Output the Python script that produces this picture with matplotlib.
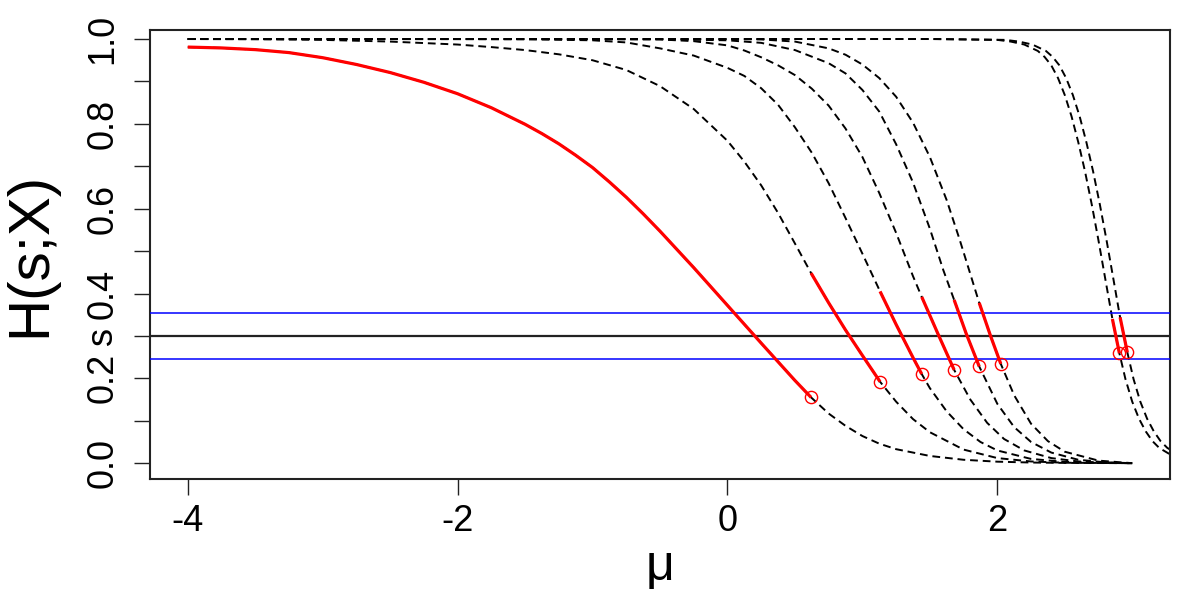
import matplotlib
matplotlib.use("Agg")
import matplotlib.pyplot as plt

# curves: mu values and H(s;X) values
r_mu = [-4.0, -3.75, -3.5, -3.25, -3.0, -2.75, -2.5, -2.25, -2.0, -1.75, -1.5,
        -1.375, -1.25, -1.125, -1.0, -0.875, -0.75, -0.625, -0.5, -0.25, 0.0,
        0.25, 0.5, 0.62,
        0.75, 0.875, 1.0, 1.125, 1.25, 1.5, 1.75, 2.0, 2.25, 2.5, 3.0]
r_h = [0.981, 0.979, 0.975, 0.968, 0.956, 0.940, 0.921, 0.898, 0.871, 0.838, 0.799,
       0.777, 0.753, 0.726, 0.697, 0.663, 0.627, 0.588, 0.547, 0.461, 0.372,
       0.283, 0.195, 0.155,
       0.117, 0.088, 0.064, 0.046, 0.033, 0.017, 0.008, 0.0035, 0.0015, 0.0006, 0.0]

b_mu = [-4.0, -3.5, -3.0, -2.5, -2.0, -1.75, -1.5, -1.25, -1.0, -0.75, -0.5, -0.25,
        0.0, 0.125, 0.25, 0.375, 0.5, 0.62, 0.75, 0.875, 1.0, 1.131, 1.25, 1.375,
        1.5, 1.75, 2.0, 2.25, 2.5, 3.0]
b_h = [1.0, 0.9995, 0.998, 0.994, 0.987, 0.981, 0.974, 0.964, 0.950, 0.927, 0.889, 0.835,
       0.760, 0.711, 0.655, 0.590, 0.518, 0.448, 0.378, 0.314, 0.254, 0.192, 0.145, 0.104,
       0.073, 0.032, 0.012, 0.004, 0.001, 0.0]

c_mu = [-4.0, -2.0, -1.5, -1.0, -0.75, -0.5, -0.25, 0.0, 0.125, 0.25, 0.375, 0.5,
        0.625, 0.75, 0.875, 1.0, 1.131, 1.25, 1.375, 1.44, 1.5, 1.625, 1.75, 1.875,
        2.0, 2.25, 2.5, 2.75, 3.0]
c_h = [1.0, 1.0, 0.9995, 0.997, 0.992, 0.978, 0.961, 0.932, 0.913, 0.884, 0.845, 0.792,
       0.732, 0.660, 0.578, 0.494, 0.405, 0.327, 0.249, 0.210, 0.177, 0.122, 0.080, 0.050,
       0.030, 0.010, 0.003, 0.0008, 0.0]

d_mu = [-4.0, -1.0, -0.5, -0.25, 0.0, 0.125, 0.25, 0.375, 0.5, 0.625, 0.75, 0.875,
        1.0, 1.125, 1.25, 1.375, 1.44, 1.56, 1.68, 1.8, 1.925, 2.05, 2.2, 2.4, 2.6,
        2.8, 3.0]
d_h = [1.0, 1.0, 0.999, 0.995, 0.985, 0.973, 0.957, 0.938, 0.915, 0.883, 0.843, 0.789,
       0.722, 0.637, 0.543, 0.441, 0.392, 0.305, 0.220, 0.150, 0.095, 0.057, 0.030, 0.012,
       0.004, 0.001, 0.0]

e_mu = [-4.0, -0.5, 0.0, 0.25, 0.5, 0.75, 0.875, 1.0, 1.125, 1.25, 1.375, 1.5,
        1.6, 1.68, 1.77, 1.866, 2.0, 2.125, 2.25, 2.4, 2.6, 2.8, 3.0]
e_h = [1.0, 0.9995, 0.997, 0.991, 0.974, 0.943, 0.919, 0.880, 0.829, 0.752, 0.662, 0.553,
       0.455, 0.385, 0.305, 0.228, 0.140, 0.085, 0.050, 0.025, 0.008, 0.002, 0.0]

f_mu = [-4.0, 0.0, 0.25, 0.5, 0.75, 0.875, 1.0, 1.125, 1.25, 1.375, 1.5, 1.625,
        1.72, 1.798, 1.866, 1.95, 2.026, 2.125, 2.25, 2.375, 2.5, 2.75, 3.0]
f_h = [1.0, 1.0, 0.999, 0.994, 0.978, 0.963, 0.940, 0.908, 0.864, 0.803, 0.722, 0.620,
       0.528, 0.448, 0.378, 0.300, 0.234, 0.160, 0.093, 0.052, 0.027, 0.006, 0.0]

g_mu = [-4.0, 1.5, 2.0, 2.1, 2.2, 2.3, 2.35, 2.4, 2.45, 2.5, 2.55, 2.6, 2.65, 2.7,
        2.75, 2.8, 2.853, 2.905, 2.95, 3.0, 3.05, 3.1, 3.15, 3.2, 3.3]
g_h = [1.0, 1.0, 0.998, 0.994, 0.987, 0.972, 0.958, 0.938, 0.908, 0.868, 0.818, 0.757,
       0.688, 0.610, 0.525, 0.435, 0.340, 0.259, 0.198, 0.145, 0.105, 0.075, 0.052,
       0.036, 0.017]

h_mu = [-4.0, 1.56, 2.06, 2.16, 2.26, 2.36, 2.41, 2.46, 2.51, 2.56, 2.61, 2.66, 2.71,
        2.76, 2.81, 2.86, 2.91, 2.964, 3.01, 3.06, 3.11, 3.16, 3.21, 3.26, 3.36]
h_h = [1.0, 1.0, 0.998, 0.994, 0.987, 0.972, 0.958, 0.938, 0.908, 0.868, 0.818, 0.757,
       0.688, 0.610, 0.525, 0.435, 0.344, 0.261, 0.198, 0.145, 0.105, 0.075, 0.052,
       0.036, 0.017]

# mu range of the red (solid) part of each curve; the circle sits at its end
seg_start = [-4.0, 0.62, 1.131, 1.44, 1.68, 1.866, 2.853, 2.91]
seg_end = [0.62, 1.131, 1.44, 1.68, 1.866, 2.026, 2.905, 2.964]

s_level = 0.3
band = [0.245, 0.355]

y_ticks = [0.0, 0.1, 0.2, 0.3, 0.4, 0.5, 0.6, 0.7, 0.8, 0.9, 1.0]
y_labels = ["0.0", "", "0.2", "s", "0.4", "", "0.6", "", "0.8", "", "1.0"]
x_ticks = [-4, -2, 0, 2]

FONT = ["Liberation Sans", "DejaVu Sans"]
plt.rcParams["font.family"] = FONT

curves = [(r_mu, r_h), (b_mu, b_h), (c_mu, c_h), (d_mu, d_h),
          (e_mu, e_h), (f_mu, f_h), (g_mu, g_h), (h_mu, h_h)]

fig = plt.figure(figsize=(12, 6), dpi=100)
ax = fig.add_axes([0.125, 0.2012, 0.85, 0.7493])

for mu, h in curves:
    ax.plot(mu, h, color="black", lw=1.4, dashes=(4, 2.5), zorder=2)

for y in band:
    ax.axhline(y, color="blue", lw=1.1, zorder=3)
ax.axhline(s_level, color="#222222", lw=1.6, zorder=3)

for (mu, h), x0, x1 in zip(curves, seg_start, seg_end):
    pts = [(m, v) for m, v in zip(mu, h) if x0 <= m <= x1]
    ax.plot([p[0] for p in pts], [p[1] for p in pts], color="red", lw=2.3,
            solid_capstyle="butt", solid_joinstyle="round", zorder=4)
    ax.plot([pts[-1][0]], [pts[-1][1]], "o", ms=8.8, mfc="none", mec="red",
            mew=1.0, zorder=5)

ax.set_xlim(-4.28, 3.28)
ax.set_ylim(-0.038, 1.022)
ax.set_xticks(x_ticks)
ax.set_xticklabels([str(t) for t in x_ticks])
ax.set_yticks(y_ticks)
ax.set_yticklabels(y_labels, rotation=90, va="center")
ax.tick_params(direction="out", length=11.5, width=1.0, labelsize=26,
               color="#222222")
ax.tick_params(axis="x", pad=6)
ax.tick_params(axis="y", pad=10)
for sp in ax.spines.values():
    sp.set_linewidth(1.5)
    sp.set_color("#222222")

ax.set_xlabel("μ", fontsize=36, labelpad=4)
ax.set_ylabel("H(s;X)", fontsize=42, labelpad=20)

fig.savefig("out.png", dpi=100)
